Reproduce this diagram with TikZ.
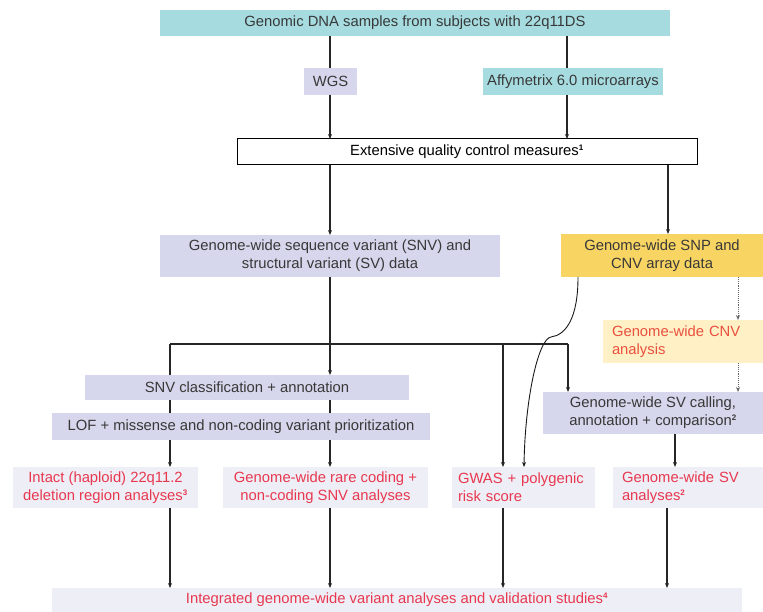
\documentclass[tikz,border=0pt]{standalone}
\usepackage{fontspec}
\setmainfont{Liberation Sans}
\usetikzlibrary{arrows.meta}
\definecolor{cyanbox}{HTML}{A6DCE0}
\definecolor{lav}{HTML}{D6D6EC}
\definecolor{lightlav}{HTML}{EEEEF6}
\definecolor{yel}{HTML}{F8D462}
\definecolor{lightyel}{HTML}{FFF0C6}
\definecolor{redtxt}{HTML}{E8384F}
\definecolor{orangetxt}{HTML}{E9503E}
\definecolor{txt}{HTML}{383838}
\newcommand{\supnum}[1]{\textsuperscript{\bfseries\footnotesize #1}}
\tikzset{
  box/.style={inner sep=0pt, outer sep=0pt, text=txt, align=center,
    font=\fontsize{14.8}{18}\selectfont},
  cyanb/.style={box, fill=cyanbox},
  lavb/.style={box, fill=lav},
  qcb/.style={box, fill=white, draw=black, line width=1pt, text=black},
  yelb/.style={box, fill=yel},
  cnvb/.style={box, fill=lightyel, text=orangetxt, align=left, inner xsep=9pt},
  redb/.style={box, fill=lightlav, text=redtxt},
  line/.style={draw=black!85, line width=1.1pt},
  arr/.style={line, -{Stealth[length=5pt,width=4pt]}},
  dotarr/.style={draw=black!60, line width=0.9pt, densely dotted, -{Stealth[length=5pt,width=4pt]}},
  curvearr/.style={draw=black!90, line width=0.9pt, -{Stealth[length=5pt,width=4pt]}}
}
\begin{document}
\begin{tikzpicture}[x=1pt,y=-1pt]
\useasboundingbox (0,0) rectangle (763,612);
% boxes
\node[cyanb, minimum width=510, minimum height=26] (top) at (415,23) {Genomic DNA samples from subjects with 22q11DS};
\node[lavb, minimum width=53, minimum height=27] (wgs) at (330.5,81.5) {WGS};
\node[cyanb, minimum width=180, minimum height=27] (affy) at (573,81.5) {Affymetrix 6.0 microarrays};
\node[qcb, minimum width=460, minimum height=26] (qc) at (467,152) {Extensive quality control measures\supnum{1}};
\node[lavb, minimum width=340, minimum height=42] (snvdata) at (330,256) {Genome-wide sequence variant (SNV) and\\structural variant (SV) data};
\node[yelb, minimum width=202, minimum height=43] (yelbox) at (662,255.5) {Genome-wide SNP and\\CNV array data};
\node[cnvb, text width=142, minimum height=43] (cnv) at (683,341.5) {Genome-wide CNV\\analysis};
\node[lavb, minimum width=324, minimum height=25] (snvclass) at (247,387.5) {SNV classification + annotation};
\node[lavb, minimum width=378, minimum height=27] (lof) at (241,426.5) {LOF + missense and non-coding variant prioritization};
\node[lavb, minimum width=220, minimum height=42] (svcall) at (653,413) {Genome-wide SV calling,\\annotation + comparison\supnum{2}};
\node[redb, minimum width=185, minimum height=41] (intact) at (105.5,487.5) {Intact (haploid) 22q11.2\\deletion region analyses\supnum{3}};
\node[redb, minimum width=205, minimum height=41] (rare) at (325.5,487.5) {Genome-wide rare coding +\\non-coding SNV analyses};
\node[redb, align=left, inner xsep=6pt, text width=131, minimum height=41] (gwas) at (523.5,487.5) {GWAS + polygenic\\risk score};
\node[redb, align=left, inner xsep=9pt, text width=132, minimum height=41] (svan) at (688,487.5) {Genome-wide SV\\analyses\supnum{2}};
\node[redb, minimum width=690, minimum height=24] (final) at (397,600) {Integrated genome-wide variant analyses and validation studies\supnum{4}};
% column coordinates
\coordinate (busL) at (170,344);
\coordinate (busR) at (568,344);
\coordinate (cA) at (170,0);
\coordinate (cB) at (330,0);
\coordinate (cC) at (503,0);
\coordinate (cAf) at (567,0);
\coordinate (cE) at (668,0);
\coordinate (cF) at (738,0);
\coordinate (cG) at (675,0);
\coordinate (cH) at (667,0);
\coordinate (cK) at (578,0);
\coordinate (cL) at (524,0);
% connectors
\draw[line] (top.south -| cB) -- (wgs.north -| cB);
\draw[line] (top.south -| cAf) -- (affy.north -| cAf);
\draw[arr] (wgs.south -| cB) -- (qc.north -| cB);
\draw[arr] (affy.south -| cAf) -- (qc.north -| cAf);
\draw[arr] (qc.south -| cB) -- (snvdata.north -| cB);
\draw[arr] (qc.south -| cE) -- (yelbox.north -| cE);
\draw[arr] (snvdata.south -| cB) -- (snvclass.north -| cB);
\draw[line] (busL) -- (busR);
\draw[line] (busL) -- (snvclass.north -| busL);
\draw[line] (snvclass.south -| cA) -- (lof.north -| cA);
\draw[line] (snvclass.south -| cB) -- (lof.north -| cB);
\draw[arr] (lof.south -| cA) -- (intact.north -| cA);
\draw[arr] (lof.south -| cB) -- (rare.north -| cB);
\draw[arr] (busL -| cC) -- (gwas.north -| cC);
\draw[arr] (busR) -- (svcall.north -| busR);
\draw[dotarr] (yelbox.south -| cF) -- (cnv.north -| cF);
\draw[dotarr] (cnv.south -| cF) -- (svcall.north -| cF);
\draw[arr] (svcall.south -| cG) -- (svan.north -| cG);
\draw[arr] (intact.south -| cA) -- (final.north -| cA);
\draw[arr] (rare.south -| cB) -- (final.north -| cB);
\draw[arr] (gwas.south -| cC) -- (final.north -| cC);
\draw[arr] (svan.south -| cH) -- (final.north -| cH);
\draw[curvearr] (yelbox.south -| cK) .. controls (578,318) and (566,335) .. (551,337)
  .. controls (538,339) and (525,400) .. (gwas.north -| cL);
\end{tikzpicture}
\end{document}
